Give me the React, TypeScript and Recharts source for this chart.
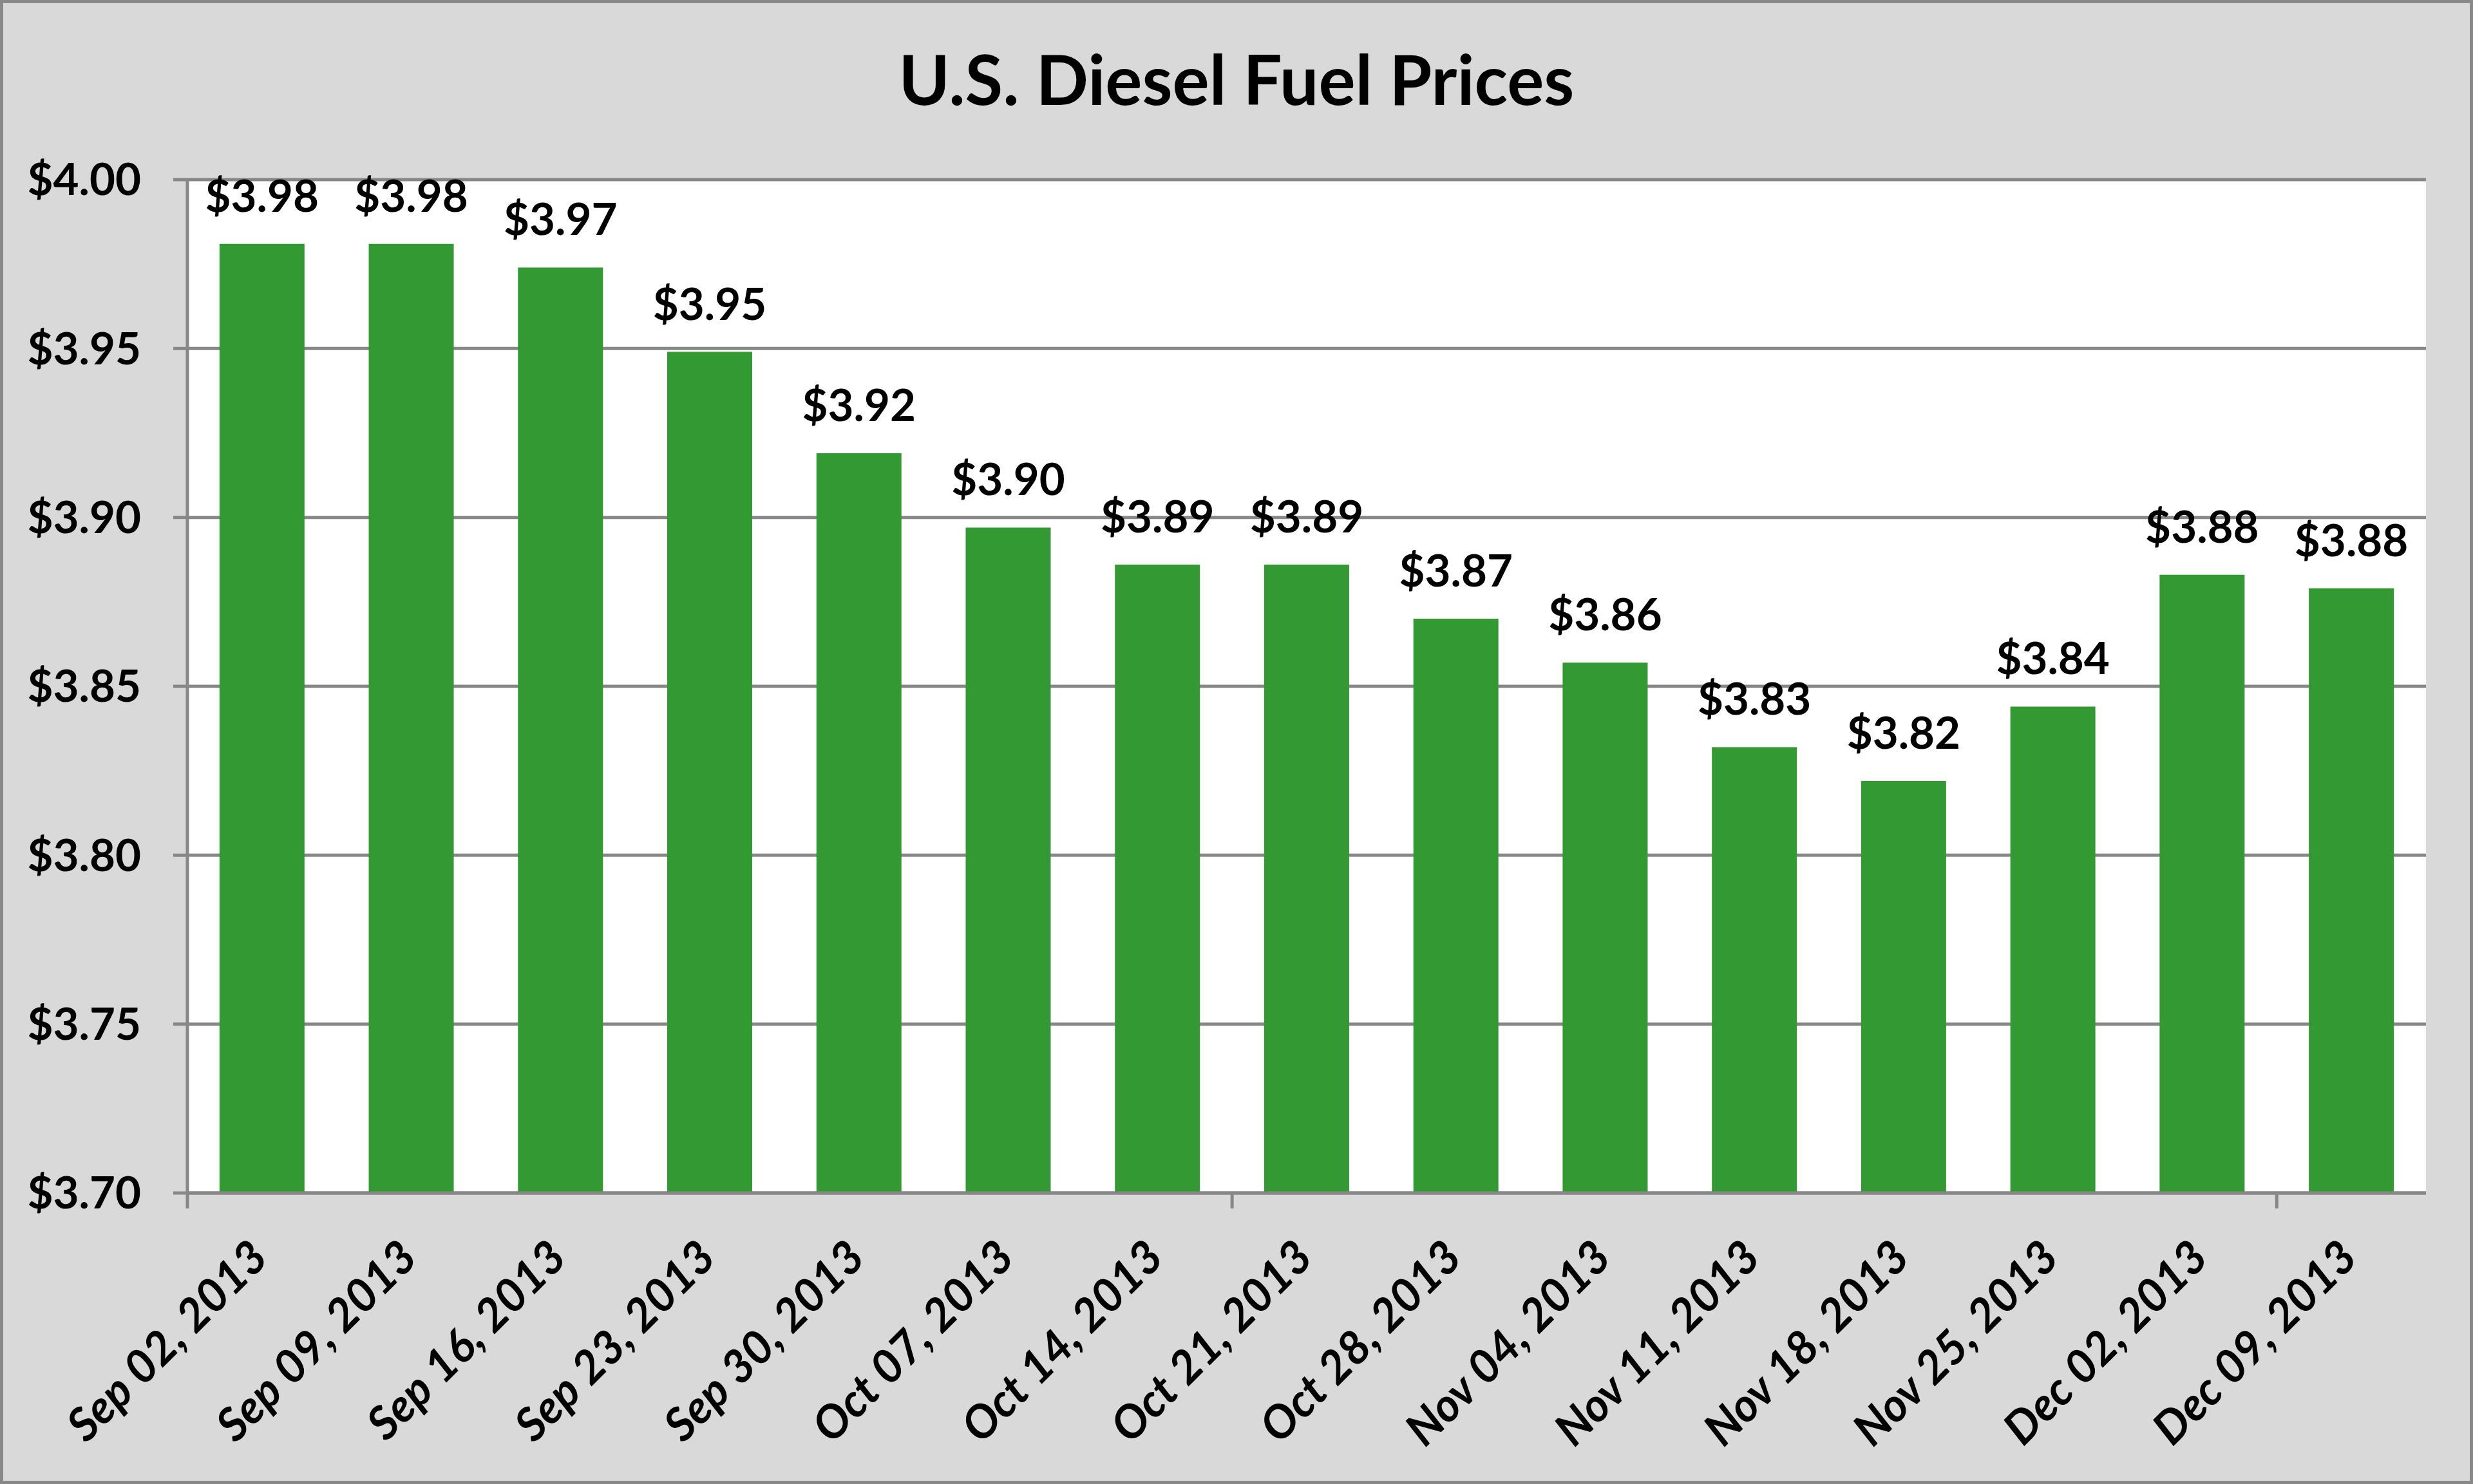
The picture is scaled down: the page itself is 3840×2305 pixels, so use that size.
import React from 'react'
import { BarChart, Bar, XAxis, YAxis, CartesianGrid, LabelList } from 'recharts'

const dates = [
  'Sep 02, 2013', 'Sep 09, 2013', 'Sep 16, 2013', 'Sep 23, 2013', 'Sep 30, 2013',
  'Oct 07, 2013', 'Oct 14, 2013', 'Oct 21, 2013', 'Oct 28, 2013', 'Nov 04, 2013',
  'Nov 11, 2013', 'Nov 18, 2013', 'Nov 25, 2013', 'Dec 02, 2013', 'Dec 09, 2013',
]
const prices = [
  3.981, 3.981, 3.974, 3.949, 3.919,
  3.897, 3.886, 3.886, 3.870, 3.857,
  3.832, 3.822, 3.844, 3.883, 3.879,
]
const yTicks = [3.7, 3.75, 3.8, 3.85, 3.9, 3.95, 4.0]

const data = dates.map((date, i) => ({ date, price: prices[i] }))

const W = 3840
const H = 2305
const M = { top: 279, right: 73, bottom: 0, left: 0 }
const Y_AXIS_W = 291
const X_AXIS_H = 452
const STEP = (W - M.left - M.right - Y_AXIS_W) / dates.length
const FONT = 'Lato, "Open Sans", sans-serif'
const GRID = '#878787'

const money = (v: number) => '$' + Number(v).toFixed(2)

function DateTick({ x, y, payload, index }: any) {
  const edge = x - STEP / 2
  const ax = x + 13
  const ay = y + 104
  return (
    <g>
      {index % 7 === 0 && (
        <line x1={edge} x2={edge} y1={y} y2={y + 24} stroke={GRID} strokeWidth={5} />
      )}
      <text
        x={ax}
        y={ay}
        transform={`rotate(-45, ${ax}, ${ay})`}
        textAnchor="end"
        fontFamily={FONT}
        fontWeight={700}
        fontStyle="italic"
        fontSize={71}
        fill="#000"
      >
        {payload.value}
      </text>
    </g>
  )
}

export default function App() {
  return (
    <div style={{ position: 'relative', width: W, height: H, background: '#d9d9d9' }}>
      <style>{'body{margin:0}'}</style>
      <div
        style={{
          position: 'absolute',
          left: 0,
          right: 0,
          top: 68,
          textAlign: 'center',
          fontFamily: FONT,
          fontWeight: 700,
          fontSize: 107,
          lineHeight: 1,
          color: '#000',
        }}
      >
        U.S. Diesel Fuel Prices
      </div>
      <BarChart width={W} height={H} data={data} margin={M} barCategoryGap="21.5%">
        <CartesianGrid vertical={false} stroke={GRID} strokeWidth={5} fill="#ffffff" />
        <XAxis
          dataKey="date"
          interval={0}
          height={X_AXIS_H}
          tickSize={0}
          tickMargin={0}
          tickLine={false}
          axisLine={{ stroke: GRID, strokeWidth: 5 }}
          tick={<DateTick />}
        />
        <YAxis
          domain={[3.7, 4.0]}
          ticks={yTicks}
          allowDataOverflow
          width={Y_AXIS_W}
          tickSize={22}
          tickMargin={50}
          tickFormatter={money}
          axisLine={{ stroke: GRID, strokeWidth: 5 }}
          tickLine={{ stroke: GRID, strokeWidth: 5 }}
          tick={{ fontFamily: FONT, fontWeight: 700, fontSize: 69, fill: '#000' }}
        />
        <Bar dataKey="price" fill="#339933" isAnimationActive={false}>
          <LabelList
            dataKey="price"
            position="top"
            offset={50}
            formatter={money}
            style={{ fontFamily: FONT, fontWeight: 700, fontSize: 69, fill: '#000' }}
          />
        </Bar>
      </BarChart>
      <div
        style={{
          position: 'absolute',
          inset: 0,
          border: '5px solid #898989',
          pointerEvents: 'none',
        }}
      />
    </div>
  )
}
